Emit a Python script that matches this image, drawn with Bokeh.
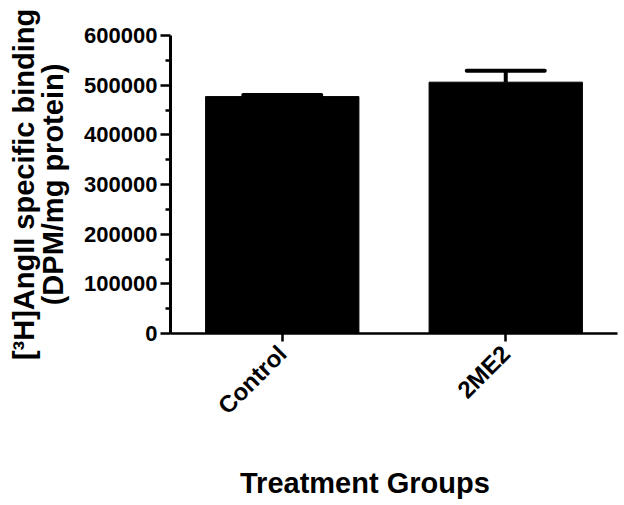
from math import pi
from bokeh.plotting import figure
from bokeh.layouts import column
from bokeh.models import (ColumnDataSource, FactorRange, Range1d, FixedTicker,
                          Whisker, TeeHead, Div, NumeralTickFormatter)
from bokeh.embed import file_html
from bokeh.resources import INLINE

# ---- data ----
groups = ["Control", "2ME2"]
means = [477000, 506000]
upper_err = [480000, 529000]
y_ticks = [0, 100000, 200000, 300000, 400000, 500000, 600000]
y_minor = [50000, 150000, 250000, 350000, 450000, 550000]
y_title = "[³H]AngII specific binding\n(DPM/mg protein)"
x_title = "Treatment Groups"

FONT = "Liberation Sans"

src = ColumnDataSource(dict(group=groups, mean=means, upper=upper_err))

p = figure(x_range=FactorRange(*groups, range_padding=0),
           y_range=Range1d(0, 600000),
           width=624, height=440,
           output_backend="svg", toolbar_location=None,
           min_border_left=170, min_border_right=7,
           min_border_top=35, min_border_bottom=107)

p.vbar(x="group", top="mean", width=0.686, source=src,
       fill_color="black", line_color="black")

w = Whisker(source=src, base="group", upper="upper", lower="mean",
            line_color="black", line_width=4, level="overlay")
w.upper_head = TeeHead(size=78, line_color="black", line_width=4, line_cap="round")
w.lower_head = None
p.add_layout(w)

p.xgrid.visible = False
p.ygrid.visible = False
p.outline_line_color = None
p.background_fill_color = "white"

# y axis
ya = p.yaxis[0]
ya.ticker = FixedTicker(ticks=y_ticks, minor_ticks=y_minor)
ya.formatter = NumeralTickFormatter(format="0")
ya.axis_line_width = 3
ya.major_tick_line_width = 2.5
ya.minor_tick_line_width = 2.5
ya.major_tick_out = 10
ya.major_tick_in = 0
ya.minor_tick_out = 5
ya.minor_tick_in = 0
ya.major_label_standoff = 3
ya.major_label_text_font = FONT
ya.major_label_text_font_size = "22px"
ya.major_label_text_font_style = "bold"
ya.major_label_text_color = "black"
ya.axis_label = y_title
ya.axis_label_text_font = FONT
ya.axis_label_text_font_size = "29px"
ya.axis_label_text_font_style = "bold"
ya.axis_label_text_color = "black"
ya.axis_label_text_line_height = 0.9
ya.axis_label_standoff = 12

# x axis
xa = p.xaxis[0]
xa.axis_line_width = 2.5
xa.major_tick_line_width = 2.5
xa.major_tick_out = 8
xa.major_tick_in = 0
xa.minor_tick_line_color = None
xa.major_label_orientation = pi / 4
xa.major_label_standoff = 8
xa.major_label_text_font = FONT
xa.major_label_text_font_size = "24px"
xa.major_label_text_font_style = "bold"
xa.major_label_text_color = "black"

title_div = Div(
    text=('<div style="padding-left:240px; padding-top:28px; '
          'font-family:\'Liberation Sans\'; font-size:29px; font-weight:bold; '
          'line-height:30px; color:black; white-space:nowrap;">'
          + x_title + '</div>'),
    width=624, height=60, margin=0)

layout = column(p, title_div, spacing=0)

open("out.html", "w").write(file_html(layout, INLINE))
